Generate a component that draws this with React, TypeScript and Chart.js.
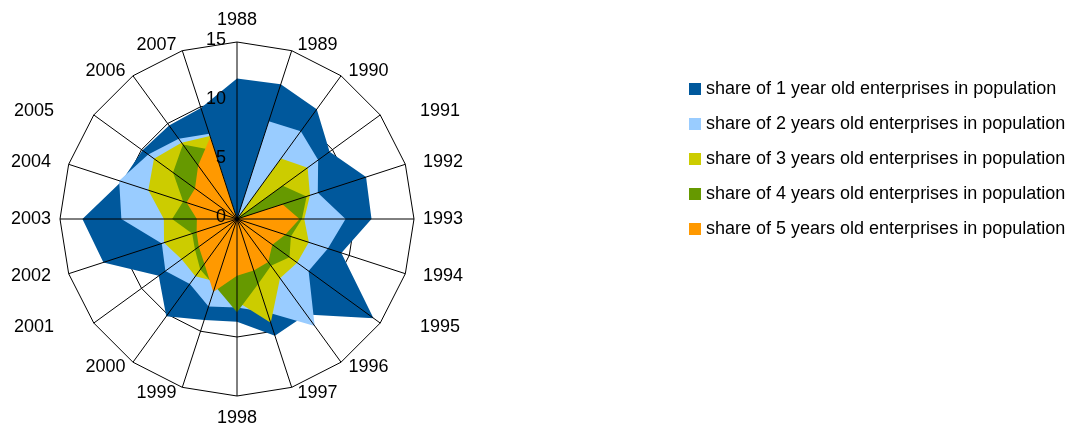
import React, { useEffect, useRef } from "react";
import { Chart, registerables } from "chart.js";

Chart.register(...registerables);

const years = [
  "1988", "1989", "1990", "1991", "1992", "1993", "1994", "1995", "1996", "1997",
  "1998", "1999", "2000", "2001", "2002", "2003", "2004", "2005", "2006", "2007",
];

const share1 = [11.9, 12.0, 11.5, 9.7, 11.5, 11.4, 9.3, 14.3, 10.0, 10.4, 8.7, 9.0, 10.2, 8.2, 11.9, 13.1, 10.3, 9.9, 9.8, 9.9];
const share2 = [0, 8.7, 9.2, 8.5, 7.2, 9.2, 8.1, 7.5, 11.2, 8.3, 7.5, 7.8, 6.8, 7.5, 6.7, 9.8, 10.5, 9.3, 8.4, 7.6];
const share3 = [0, 0, 6.35, 7.4, 6.5, 5.7, 6.4, 6.3, 6.2, 9.25, 7.0, 5.6, 6.0, 5.8, 6.5, 6.2, 7.9, 8.7, 8.0, 7.4];
const share4 = [0, 0, 0, 4.8, 6.2, 5.5, 4.8, 5.5, 4.9, 5.8, 7.9, 6.0, 5.3, 4.4, 4.0, 5.5, 4.8, 6.7, 7.8, 6.1];
const share5 = [0, 0, 0, 0, 4.05, 5.3, 4.3, 3.7, 4.5, 4.6, 4.8, 6.5, 4.7, 4.0, 3.6, 3.4, 4.5, 4.4, 5.6, 7.3];

const seriesNames = [
  "share of 1 year old enterprises in population",
  "share of 2 years old enterprises in population",
  "share of 3 years old enterprises in population",
  "share of 4 years old enterprises in population",
  "share of 5 years old enterprises in population",
];
const seriesColors = ["#00589c", "#99ccff", "#cccc00", "#669900", "#ff9900"];
const tickValues = [0, 5, 10, 15];

const FONT = '18px "Liberation Sans", Arial, sans-serif';

export default function App() {
  const ref = useRef<HTMLCanvasElement>(null);

  useEffect(() => {
    const series = [share1, share2, share3, share4, share5];

    const overlay = {
      id: "overlay",
      afterDatasetsDraw(chart: any) {
        const scale = chart.scales.r;
        const ctx = chart.ctx;
        const R = scale.drawingArea;
        const cx = scale.xCenter;
        const cy = scale.yCenter;
        ctx.save();
        ctx.strokeStyle = "#000";
        ctx.lineWidth = 1;
        ctx.beginPath();
        for (let i = 0; i < years.length; i++) {
          const p = scale.getPointPosition(i, R);
          ctx.moveTo(cx, cy);
          ctx.lineTo(p.x, p.y);
        }
        ctx.stroke();

        ctx.font = FONT;
        ctx.fillStyle = "#000";
        ctx.textAlign = "right";
        ctx.textBaseline = "middle";
        for (const v of tickValues) {
          const d = scale.getDistanceFromCenterForValue(v);
          ctx.fillText(String(v), cx - 11, cy - d - 2);
        }

        for (let i = 0; i < years.length; i++) {
          const a = scale.getIndexAngle(i);
          const s = Math.sin(a);
          const c = Math.cos(a);
          if (Math.abs(s) < 0.01) {
            ctx.textAlign = "center";
            ctx.fillText(years[i], cx, cy - c * (R + 22));
          } else {
            const y = cy - c * (R + 6);
            const as = Math.abs(s);
            const dx = as >= 0.9 ? R + 9 : as >= 0.8 ? R + 6 : (R + 6) * as + 4;
            ctx.textAlign = s > 0 ? "left" : "right";
            ctx.fillText(years[i], cx + Math.sign(s) * dx, y);
          }
        }
        ctx.restore();
      },
      afterDraw(chart: any) {
        const ctx = chart.ctx;
        ctx.save();
        ctx.font = FONT;
        ctx.textAlign = "left";
        ctx.textBaseline = "middle";
        for (let i = 0; i < seriesNames.length; i++) {
          const y = 89 + i * 35;
          ctx.fillStyle = seriesColors[i];
          ctx.fillRect(689, y - 6, 12, 12);
          ctx.fillStyle = "#000";
          ctx.fillText(seriesNames[i], 706, y);
        }
        ctx.restore();
      },
    };

    const chart = new Chart(ref.current as HTMLCanvasElement, {
      type: "radar",
      data: {
        labels: years,
        datasets: series.map((d, i) => ({
          label: seriesNames[i],
          data: d,
          backgroundColor: seriesColors[i],
          borderColor: "rgba(0,0,0,0)",
          borderWidth: 0,
          pointRadius: 0,
          pointHoverRadius: 0,
          fill: true,
          tension: 0,
          order: series.length - i,
        })),
      },
      options: {
        animation: false,
        responsive: false,
        layout: { padding: { left: 60, right: 656, top: 42, bottom: 27 } },
        plugins: { legend: { display: false }, tooltip: { enabled: false } },
        scales: {
          r: {
            min: 0,
            max: 15,
            ticks: { stepSize: 5, display: false },
            grid: { color: "#000", lineWidth: 1 },
            angleLines: { display: false },
            pointLabels: { display: false },
          },
        },
      } as any,
      plugins: [overlay],
    });
    return () => chart.destroy();
  }, []);

  return (
    <div style={{ position: "fixed", left: 0, top: 0, width: 1070, height: 423, background: "#fff" }}>
      <canvas ref={ref} width={1070} height={423} style={{ width: 1070, height: 423 }} />
    </div>
  );
}
